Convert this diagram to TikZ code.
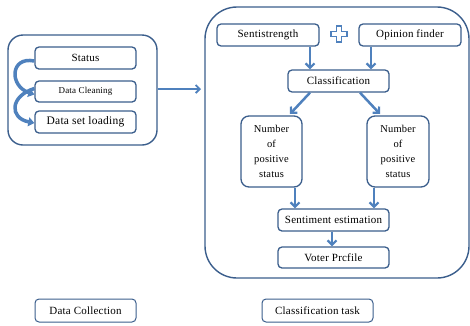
\documentclass[tikz,border=0pt]{standalone}
\usepackage{fontspec}
\setmainfont{Liberation Serif}[LetterSpace=2]
\usetikzlibrary{arrows.meta}
\definecolor{boxline}{HTML}{3B5E8C}
\definecolor{arrowblue}{HTML}{4F81BD}
\tikzset{
  x=1pt,y=-1pt,
  box/.style={draw=boxline, line width=1.3pt, rounded corners=4pt, fill=white,
    inner sep=0pt, font=\fontsize{11}{12}\selectfont, align=center},
  outer/.style={draw=boxline, line width=1.4pt, inner sep=0pt},
  flow/.style={draw=arrowblue, line width=2.5pt, -{Straight Barb[length=4.5pt,width=9pt,line width=2.2pt]}},
  bigflow/.style={draw=arrowblue, line width=1.8pt, -{Straight Barb[length=4pt,width=8pt,line width=1.8pt]}},
  curl/.style={draw=arrowblue, line width=3.5pt, -{Triangle[length=6pt,width=9pt]}},
}
\begin{document}
\begin{tikzpicture}
\useasboundingbox (0,0) rectangle (470,325);
% outer containers
\node[outer, rounded corners=15pt, minimum width=149pt, minimum height=110pt] (left) at (82.5,90) {};
\node[outer, rounded corners=32pt, minimum width=264pt, minimum height=271pt] (right) at (337,142.5) {};
% left boxes
\node[box, minimum width=101pt, minimum height=22pt] (status) at (85.5,58) {Status};
\node[box, minimum width=101pt, minimum height=21pt, font=\fontsize{9}{10}\selectfont] (clean) at (85.5,91.5) {Data Cleaning};
\node[box, minimum width=101pt, minimum height=22pt, font=\fontsize{11.5}{12}\selectfont] (load) at (85.5,122) {Data set loading};
% curved arrows
\draw[curl] ([yshift=-3pt]status.west) .. controls (10,56) and (9,86) .. ([yshift=-3pt]clean.west);
\draw[curl] ([yshift=3pt]clean.west) .. controls (10,96) and (9,118) .. ([yshift=-1pt]load.west);
% big arrow
\coordinate (bigend) at (201,89);
\draw[bigflow] (left.east |- bigend) -- (bigend);
% right boxes
\node[box, minimum width=102pt, minimum height=22pt] (senti) at (268,35) {Sentistrength};
\node[box, minimum width=102pt, minimum height=22pt] (opin) at (410,35) {Opinion finder};
\node[box, minimum width=101pt, minimum height=22pt] (cls) at (338.5,81) {Classification};
\node[box, minimum width=61pt, minimum height=71pt, rounded corners=8pt, font=\fontsize{10.5}{15}\selectfont] (numl) at (271.5,151.5) {Number\\of\\positive\\status};
\node[box, minimum width=62pt, minimum height=71pt, rounded corners=8pt, font=\fontsize{10.5}{15}\selectfont] (numr) at (398,151.5) {Number\\of\\positive\\status};
\node[box, minimum width=111pt, minimum height=22pt] (est) at (333.5,220) {Sentiment estimation};
\node[box, minimum width=111pt, minimum height=21pt] (voter) at (333.5,257.5) {Voter Prcfile};
% plus sign
\node[inner sep=0pt, minimum size=1pt] (plus) at (339,34) {};
\draw[draw=arrowblue, line width=1.3pt, fill=white]
  ([shift={(-2.5,-8)}]plus.center) -- ++(5,0) -- ++(0,5.5) -- ++(5.5,0) -- ++(0,5) -- ++(-5.5,0)
  -- ++(0,5.5) -- ++(-5,0) -- ++(0,-5.5) -- ++(-5.5,0) -- ++(0,-5) -- ++(5.5,0) -- cycle;
% arrows
\draw[flow] (senti.south -| 310,0) -- (cls.north -| 310,0);
\draw[flow] (opin.south -| 371,0) -- (cls.north -| 371,0);
\draw[flow] (cls.south -| 310,0) -- (290,114);
\draw[flow] (cls.south -| 360,0) -- (380,114);
\draw[flow] (numl.south -| 295,0) -- (est.north -| 295,0);
\draw[flow] (numr.south -| 374,0) -- (est.north -| 374,0);
\draw[flow] (est.south -| 332,0) -- (voter.north -| 332,0);
% bottom labels
\node[box, minimum width=101pt, minimum height=23pt, line width=1pt] (dc) at (85.5,310.5) {Data Collection};
\node[box, minimum width=111pt, minimum height=23pt, line width=1pt] (ct) at (317.5,310.5) {Classification task};
\end{tikzpicture}
\end{document}
